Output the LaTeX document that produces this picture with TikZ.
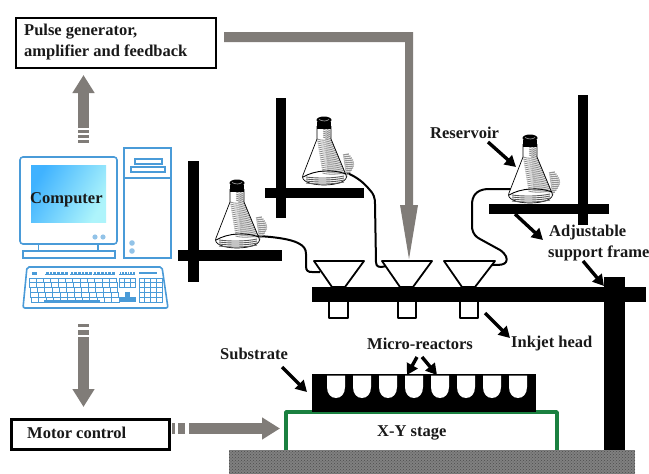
\documentclass[tikz,border=0pt]{standalone}
\usepackage{fontspec}
\setmainfont{Liberation Serif}
\usetikzlibrary{arrows.meta,patterns}
\definecolor{arrowgray}{HTML}{807C78}
\definecolor{pcblue}{HTML}{4A9BD8}
\definecolor{stagegreen}{HTML}{1A8040}
\tikzset{
  x=1pt,y=-1pt,
  lbl/.style={font=\fontsize{16.5}{19}\selectfont\bfseries,inner sep=0pt,anchor=west,text=black!90},
  grayarrow/.style={draw=arrowgray,line width=10.5pt,-{Triangle[width=21pt,length=18pt]},color=arrowgray},
  graystripe/.style={fill=arrowgray,draw=none},
  callout/.style={draw=black,line width=3.4pt,-{Triangle[width=12pt,length=11pt]}},
  barblack/.style={fill=black,draw=none},
  pcline/.style={draw=pcblue,line width=1.6pt},
  pckey/.style={draw=pcblue,line width=1pt,fill=white},
  tube/.style={draw=black,line width=2pt,line join=round},
  funnel/.style={draw=black,line width=1.8pt,fill=white,line join=round},
  flask/.pic={
    \fill[white] (-6,9)--(-6,22)--(-20,58) .. controls (-23,64) and (-12,68) .. (1,68) .. controls (14,68) and (26,64) .. (23,58)--(8,22)--(8,9)--cycle;
    \fill[gray!25] (1,14)--(7,14)--(8,22)--(23,58)--(4,56)--(3,30)--cycle;
    \foreach \yy in {38,40,...,60}{
      \pgfmathsetmacro{\xa}{20+(\yy-38)*0.15}
      \pgfmathsetmacro{\xb}{24+7*sin((\yy-36)*7.5)}
      \draw[gray!85,line width=1.2pt] (\xa,\yy) -- (\xb,\yy-1);
    }
    \foreach \yy in {12,14,...,56}{
      \pgfmathsetmacro{\xl}{\yy<22 ? 0 : -6-(\yy-22)*14/36+(\yy-22)*0.55}
      \pgfmathsetmacro{\xr}{\yy<22 ? 7 : 8+(\yy-22)*15/36}
      \draw[gray!90,line width=0.8pt] (\xl,\yy) .. controls (\xl+6,\yy+2) and (\xr-5,\yy+1.5) .. (\xr,\yy-1);
    }
    \draw[black,line width=0.7pt] (-6,9)--(-6,22)--(-20,58) .. controls (-23,64) and (-12,68) .. (1,68) .. controls (14,68) and (26,64) .. (23,58)--(8,22)--(8,9);
    \draw[black,line width=0.9pt] (-20,60) .. controls (-8,53) and (10,52) .. (23,57);
    \foreach \yy in {60,62,64,66}{
      \draw[black!65,line width=0.9pt] (-17,\yy) .. controls (-6,\yy+1.5) and (10,\yy+1.5) .. (21,\yy-1);
    }
    \fill[black] (-6,5) rectangle (8,12);
    \fill[black] (1,3) ellipse (7.5pt and 3.5pt);
    \draw[gray!60,line width=0.6pt] (-4,2.5) .. controls (0,4.5) and (3,4.5) .. (6,2.5);
  },
}
\begin{document}
\begin{tikzpicture}
\useasboundingbox (0,0) rectangle (649,474);
\fill[white] (0,0) rectangle (649,474);

% named anchor points of the connectors
\coordinate (upStart) at (83.5,128);
\coordinate (upTip) at (83.5,75);
\coordinate (downStart) at (83.5,337);
\coordinate (downTip) at (83.5,407);
\coordinate (rightStart) at (189,428.5);
\coordinate (rightTip) at (280,428.5);

% ground
\fill[black!50] (229,450) rectangle (635,474);
\fill[pattern=crosshatch dots,pattern color=black!70] (229,450) rectangle (635,474);

% stage and substrate
\draw[stagegreen,line width=3.6pt,line join=round] (286,450)--(286,412)--(557,412)--(557,450);
\fill[black] (312,374) rectangle (536,412);
\foreach \i in {0,...,7}{
  \fill[white] ({327+26*\i},375.5) -- ({327+26*\i},387) .. controls ({327+26*\i},394) and ({331+26*\i},398) .. ({336+26*\i},398) .. controls ({341+26*\i},398) and ({345+26*\i},394) .. ({345+26*\i},387) -- ({345+26*\i},375.5) -- cycle;
}

% column and head bar
\fill[barblack] (604,277) rectangle (625,450);
\fill[barblack] (312,287) rectangle (646,302);
\foreach \xa/\xb in {329/348,398/416,460/478}{
  \draw[funnel] (\xa,302)--(\xa,318)--(\xb,318)--(\xb,302);
}

% support stands
\fill[barblack] (188,161) rectangle (199,282);
\fill[barblack] (178,250) rectangle (282,261);
\fill[barblack] (276,98) rectangle (286,218);
\fill[barblack] (265,188) rectangle (364,198);
\fill[barblack] (578,95) rectangle (588,225);
\fill[barblack] (489,204) rectangle (609,214);

% tubes
\draw[tube] (258,236) .. controls (275,237) and (290,239) .. (298,243) .. controls (304,246) and (306,249) .. (306,254) -- (306,266) .. controls (306,271) and (308,272) .. (312,272) -- (320,272);
\draw[tube] (347,173) .. controls (357,177) and (364,183) .. (369,189) .. controls (374,194) and (375,198) .. (375,204) -- (376,262) .. controls (376,267) and (379,268) .. (386,266);
\draw[tube] (511,189) -- (487,189) .. controls (476,190) and (472,196) .. (472,205) -- (472,228) .. controls (473,234) and (476,237) .. (480,239) -- (500,250) .. controls (506,254) and (508,259) .. (506,262) .. controls (504,265) and (500,265) .. (492,265);

% funnels
\foreach \a/\b/\c/\d in {314/332/345/364,382/400/413/432,444/462/475/495}{
  \draw[funnel] (\a,261)--(\d,261)--(\c,287)--(\b,287)--cycle;
}

% flasks
\path (236,180) pic {flask};
\path (323,117) pic {flask};
\path (529,135) pic {flask};

% computer monitor
\draw[pcline,rounded corners=3pt] (20,157) rectangle (117,244);
\shade[left color=black!0!cyan!60!blue!75,right color=pcblue!30!cyan!35,shading angle=60] (31,165) rectangle (106,222);
\foreach \xx in {95,103}{\fill[pcblue!60] (\xx,237) circle (2.6pt);}
\draw[pcline] (38.5,244)--(38.5,251) (98,244)--(98,251);
\draw[pcline] (23,251) rectangle (115,258);
% tower
\draw[pcline] (124,148) rectangle (171,258);
\draw[pcline] (124,178)--(171,178);
\draw[pcline] (135,159) rectangle (162,164);
\draw[pcline] (131,167) rectangle (165,172);
\foreach \yy in {243,251}{\fill[pcblue!60] (132,\yy) circle (2.8pt);}
% keyboard
\draw[pcline,rounded corners=2pt] (27,267)--(162,267)--(168,308)--(23,308)--cycle;
\fill[pcblue] (32,272) rectangle (37,275);
\foreach \a/\b in {45/68,70/92,93/115,119/135}{
  \fill[pcblue] (\a,272) rectangle (\b,275);
  \foreach \k in {0,...,5}{\draw[white,line width=0.5pt] ({\a+(\b-\a)*\k/6},272)--({\a+(\b-\a)*\k/6},273.5);}
}
\fill[pcblue] (139,272) rectangle (157,274);
\foreach \r in {0,...,4}{
  \foreach \k in {0,...,11}{
    \draw[pckey] ({29+7.3*\k+\r*0.6},{278+\r*4.9}) rectangle ++(7.3,4.9);
  }
}
\fill[pcblue] (44,300) rectangle (100,303);
\foreach \k in {0,1,2}{
  \foreach \r in {0,1}{\draw[pckey] ({119+5.6*\k},{278+4.5*\r}) rectangle ++(5.6,4.5);}
}
\fill[pcblue] (125,292) rectangle (130,297);
\fill[pcblue] (119,297) rectangle (136,302);
\foreach \k in {0,1,2,3}{
  \foreach \r in {0,...,4}{\draw[pckey] ({139+5.8*\k},{278+4.9*\r}) rectangle ++(5.8,4.9);}
}

% boxes
\node[draw=black,line width=2.2pt,fill=white,minimum width=200pt,minimum height=50pt,anchor=north west,inner sep=0pt] (pulsebox) at (15,17) {};
\node[draw=black,line width=2.6pt,fill=white,minimum width=158pt,minimum height=30pt,anchor=north west,inner sep=0pt] (motorbox) at (10,418) {};

% gray connectors
\fill[arrowgray] (224,32)--(413,32)--(413,205)--(418,205)--(409,259)--(400,205)--(405,205)--(405,42)--(224,42)--cycle;
\draw[grayarrow] (upStart)--(upTip);
\foreach \ya/\yb in {130/133,134.5/137.5,139.5/143}{\fill[graystripe] (78,\ya) rectangle (89,\yb);}
\draw[grayarrow] (downStart)--(downTip);
\foreach \ya/\yb in {324/327,330/335}{\fill[graystripe] (78,\ya) rectangle (89,\yb);}
\draw[grayarrow] (rightStart)--(rightTip);
\foreach \xa/\xb in {172/175,178/185}{\fill[graystripe] (\xa,423) rectangle (\xb,434);}

% callouts
\coordinate (c1a) at (488,142); \coordinate (c1b) at (516,167);
\coordinate (c2a) at (515,214); \coordinate (c2b) at (543,240);
\coordinate (c3a) at (583,261); \coordinate (c3b) at (604,286);
\coordinate (c4a) at (485,313); \coordinate (c4b) at (510,338);
\coordinate (c5a) at (282,367); \coordinate (c5b) at (307,392);
\coordinate (c6a) at (417,357); \coordinate (c6b) at (407,375);
\coordinate (c7a) at (422,357); \coordinate (c7b) at (437,375);
\foreach \p/\q in {c1a/c1b,c2a/c2b,c3a/c3b,c4a/c4b,c5a/c5b,c6a/c6b,c7a/c7b}{\draw[callout] (\p)--(\q);}

% labels
\node[lbl] (tpulse1) at (24,32) {Pulse generator,};
\node[lbl] (tpulse2) at (24,52) {amplifier and feedback};
\node[lbl] (tcomputer) at (30,200) {Computer};
\node[lbl] (tmotor) at (27,433) {Motor control};
\node[lbl] (treservoir) at (430,133) {Reservoir};
\node[lbl] (tadj) at (549,233) {Adjustable};
\node[lbl] (tsupport) at (548,253) {support frame};
\node[lbl] (tmicro) at (367,344) {Micro-reactors};
\node[lbl] (tinkjet) at (511,344) {Inkjet head};
\node[lbl] (tsub) at (220,354) {Substrate};
\node[lbl] (tstage) at (377,433) {X-Y stage};
\end{tikzpicture}
\end{document}
